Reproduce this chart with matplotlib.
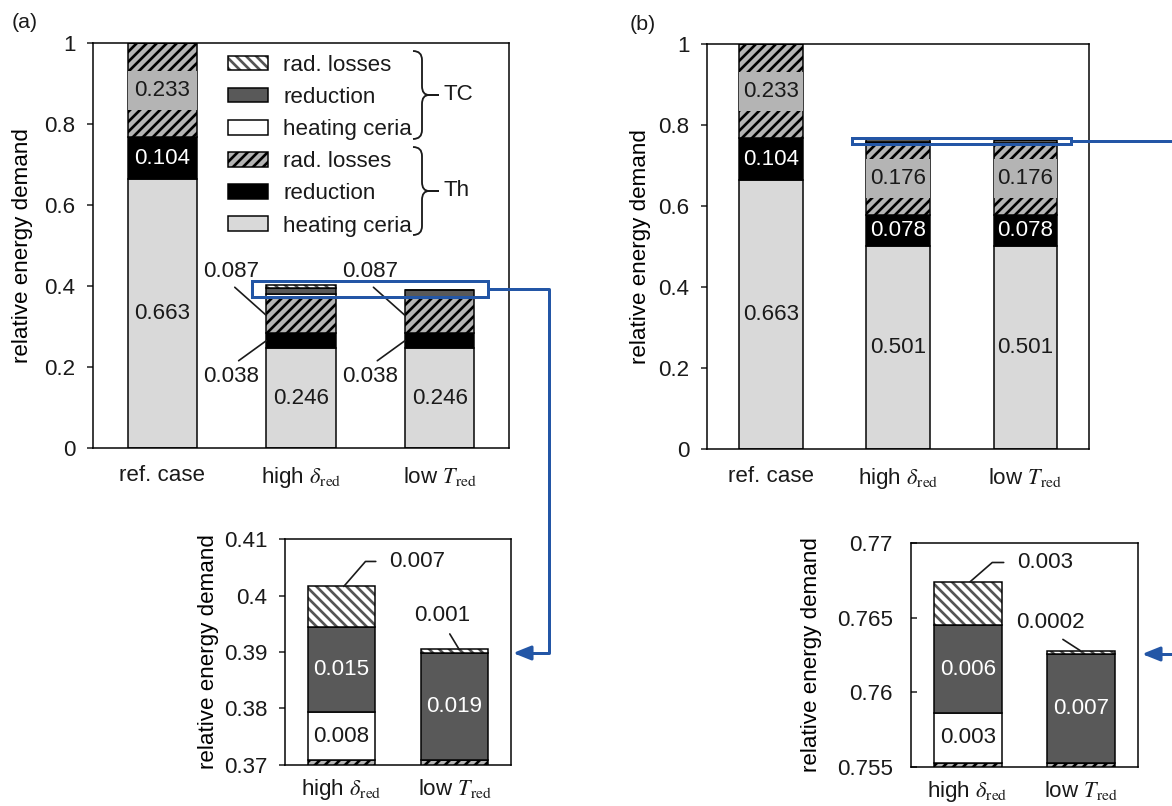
import matplotlib
matplotlib.use('Agg')
import matplotlib.pyplot as plt
from matplotlib.patches import Patch, Rectangle, PathPatch, FancyArrowPatch
from matplotlib.path import Path
from matplotlib.transforms import Affine2D
from matplotlib.ticker import FuncFormatter, MultipleLocator
import numpy as np

W, H, DPI = 1172, 806, 120

cases = ['ref. case', r'high $\delta_{\mathrm{red}}$', r'low $T_{\mathrm{red}}$']

# (a) thermal part (Th): heating ceria, reduction, rad. losses
th_heat_a = [0.663, 0.246, 0.246]
th_red_a = [0.104, 0.038, 0.038]
th_rad_a = [0.233, 0.0869, 0.0869]
# (a) thermochemical part (TC) stacked on top
tc_heat_a = [0.0, 0.0084, 0.0]
tc_red_a = [0.0, 0.0151, 0.0189]
tc_rad_a = [0.0, 0.0072, 0.0007]

# (b)
th_heat_b = [0.663, 0.501, 0.501]
th_red_b = [0.104, 0.078, 0.078]
th_rad_b = [0.233, 0.1763, 0.1763]
tc_heat_b = [0.0, 0.0033, 0.0]
tc_red_b = [0.0, 0.0059, 0.0073]
tc_rad_b = [0.0, 0.0029, 0.0002]

legend_labels = ['rad. losses', 'reduction', 'heating ceria'] * 2

GRAY_LIGHT = '#d9d9d9'
GRAY_MID = '#b4b4b4'
GRAY_DARK = '#595959'
HATCH_GRAY = '#555555'
BLUE = '#2356a6'
TXT = '#1a1a1a'
LW = 0.9
FS = 13.4
TH_HATCH = '////'
TC_HATCH = '\\\\\\\\'

plt.rcParams['font.family'] = 'Liberation Sans'
plt.rcParams['mathtext.fontset'] = 'stix'
plt.rcParams['hatch.linewidth'] = 1.6
plt.rcParams['font.size'] = FS
plt.rcParams['text.color'] = TXT

fig = plt.figure(figsize=(W / DPI, H / DPI), dpi=DPI)
# pixel coordinates of the reference image (origin top left)
PX = Affine2D().scale(1 / W, -1 / H).translate(0, 1) + fig.transFigure


def add_axes(left, top, right, bottom):
    return fig.add_axes([left / W, 1 - bottom / H, (right - left) / W, (bottom - top) / H])


def fmt(v):
    return f'{v:.3f}' if v >= 0.0005 else f'{v:.4f}'


def draw_stacks(ax, th, tc, width):
    # returns list of (bars, bottoms, values) for the six layers
    x = np.arange(len(th[0]))
    base = np.zeros(len(x))
    layers = []
    for vals, fc, hatch in [(th[0], GRAY_LIGHT, None), (th[1], 'black', None),
                            (th[2], GRAY_MID, TH_HATCH), (tc[0], 'white', None),
                            (tc[1], GRAY_DARK, None)]:
        vals = np.asarray(vals)
        bars = ax.bar(x, vals, width, bottom=base, color=fc, edgecolor='black',
                      linewidth=LW, hatch=hatch, zorder=2)
        layers.append((bars, base.copy(), vals))
        base = base + vals
    vals = np.asarray(tc[2])
    ax.bar(x, vals, width, bottom=base, color='white', edgecolor=HATCH_GRAY,
           linewidth=0, hatch=TC_HATCH, zorder=2)
    bars = ax.bar(x, vals, width, bottom=base, fill=False, edgecolor='black',
                  linewidth=LW, zorder=3)
    layers.append((bars, base.copy(), vals))
    return layers


def inner_label(ax, layers, k, i, color=TXT, boxed=False):
    bars, bot, vals = layers[k]
    t = ax.text(i, bot[i] + vals[i] / 2, fmt(vals[i]), ha='center', va='center',
                color=color, fontsize=FS, zorder=6)
    if boxed:
        t.set_bbox(dict(boxstyle='square,pad=0.4', fc=GRAY_MID, ec='none'))
        t.set_clip_path(bars[i])
        t.set_clip_on(True)


def style_axes(ax, ylim, step, direction='out', pad=7, xpad=10):
    ax.set_ylim(*ylim)
    ax.yaxis.set_major_locator(MultipleLocator(step))
    ax.yaxis.set_major_formatter(FuncFormatter(lambda v, p: f'{round(v, 4):g}'))
    ax.tick_params(axis='y', direction=direction, length=3.6, width=LW, pad=pad,
                   labelsize=FS, colors=TXT)
    ax.tick_params(axis='x', length=0, pad=xpad, labelsize=FS, colors=TXT)
    for s in ax.spines.values():
        s.set_linewidth(LW)
    ax.set_ylabel('relative energy demand', fontsize=FS)


ax_a = add_axes(93, 43, 509, 448)
ax_b = add_axes(707, 44, 1089, 449)
in_a = add_axes(285, 539, 511, 765)
in_b = add_axes(911, 543, 1138, 767)

# ---- main panels ----
for ax, th, tc in [(ax_a, (th_heat_a, th_red_a, th_rad_a), (tc_heat_a, tc_red_a, tc_rad_a)),
                   (ax_b, (th_heat_b, th_red_b, th_rad_b), (tc_heat_b, tc_red_b, tc_rad_b))]:
    layers = draw_stacks(ax, th, tc, 0.5)
    ax.set_xlim(-0.5, 2.5)
    ax.set_xticks(range(3), cases)
    style_axes(ax, (0, 1), 0.2)
    inner_label(ax, layers, 0, 0)
    inner_label(ax, layers, 1, 0, color='white')
    inner_label(ax, layers, 2, 0, boxed=True)
    for i in (1, 2):
        inner_label(ax, layers, 0, i)
        if ax is ax_b:
            inner_label(ax, layers, 1, i, color='white')
            inner_label(ax, layers, 2, i, boxed=True)
        else:
            for k, off, rel in [(2, (-21, 26.5), (0.45, 0)), (1, (-21, -21.5), (0.5, 1))]:
                bars, bot, vals = layers[k]
                ax.annotate(fmt(vals[i]), xy=(i - 0.25, bot[i] + vals[i] / 2),
                            xytext=off, textcoords='offset points', ha='center',
                            va='center', fontsize=FS, zorder=6,
                            arrowprops=dict(arrowstyle='-', lw=1.0, color=TXT,
                                            shrinkA=2, shrinkB=0, relpos=rel))

ax_a.add_patch(Rectangle((0.65, 0.373), 1.7, 0.039, fill=False, ec=BLUE, lw=1.8,
                         zorder=7, clip_on=False))
ax_b.add_patch(Rectangle((0.638, 0.7523), 1.724, 0.0163, fill=False, ec=BLUE, lw=1.8,
                         zorder=7, clip_on=False))

# ---- insets ----
for ax, th, tc, ylim, step, tdir, tpad in [
        (in_a, (th_heat_a[1:], th_red_a[1:], th_rad_a[1:]),
         (tc_heat_a[1:], tc_red_a[1:], tc_rad_a[1:]), (0.37, 0.41), 0.01, 'out', 7),
        (in_b, (th_heat_b[1:], th_red_b[1:], th_rad_b[1:]),
         (tc_heat_b[1:], tc_red_b[1:], tc_rad_b[1:]), (0.755, 0.77), 0.005, 'in', 11)]:
    layers = draw_stacks(ax, th, tc, 0.6)
    ax.set_xlim(-0.5, 1.5)
    ax.set_xticks(range(2), cases[1:])
    style_axes(ax, ylim, step, tdir, tpad, xpad=7)
    inner_label(ax, layers, 3, 0)
    inner_label(ax, layers, 4, 0, color='white')
    inner_label(ax, layers, 4, 1, color='white')
    bars, bot, vals = layers[5]
    top = bot + vals
    if ax is in_a:
        off0, ang, off1, x1 = (44, 15), 49, (-10, 20), 1.04
    else:
        off0, ang, off1, x1 = (45, 11.6), 41, (-18, 16.6), 0.99
    ax.annotate(fmt(vals[0]), xy=(0.02, top[0]), xytext=off0, textcoords='offset points',
                ha='center', va='center', fontsize=FS,
                arrowprops=dict(arrowstyle='-', lw=1.0, color=TXT, shrinkA=6, shrinkB=0,
                                relpos=(0, 0.5),
                                connectionstyle=f'angle,angleA=0,angleB={ang},rad=0'))
    ax.annotate(fmt(vals[1]), xy=(x1, top[1]), xytext=off1, textcoords='offset points',
                ha='center', va='center', fontsize=FS,
                arrowprops=dict(arrowstyle='-', lw=1.0, color=TXT, shrinkA=3, shrinkB=0,
                                relpos=(0.55, 0)))
    ax.yaxis.set_label_coords(-0.291 if ax is in_a else -0.391, 0.5)

ax_a.yaxis.set_label_coords(-0.144, 0.5)
ax_b.yaxis.set_label_coords(-0.146, 0.5)

# ---- legend with braces ----
handles = [
    (Patch(fc='white', ec=HATCH_GRAY, lw=0, hatch=TC_HATCH), Patch(fill=False, ec='black', lw=LW)),
    Patch(fc=GRAY_DARK, ec='black', lw=LW),
    Patch(fc='white', ec='black', lw=LW),
    Patch(fc=GRAY_MID, ec='black', lw=LW, hatch=TH_HATCH),
    Patch(fc='black', ec='black', lw=LW),
    Patch(fc=GRAY_LIGHT, ec='black', lw=LW),
]
ax_a.legend(handles, legend_labels, loc='upper left', bbox_to_anchor=(0.3245, 0.971),
            frameon=False, borderpad=0, borderaxespad=0, handlelength=1.8,
            handleheight=0.63, handletextpad=0.67, labelspacing=0.5, fontsize=FS)


def brace(x0, y_top, y_bot, x_tip, label):
    xm = x0 + 9
    r = 9
    ymid = (y_top + y_bot) / 2
    for ya, sgn in ((y_top, 1), (y_bot, -1)):
        verts = [(x0, ya), (xm, ya), (xm, ya + sgn * r), (xm, ymid - sgn * r),
                 (xm, ymid), (xm + 7, ymid), (x_tip, ymid)]
        codes = [Path.MOVETO, Path.CURVE3, Path.CURVE3, Path.LINETO,
                 Path.CURVE3, Path.CURVE3, Path.LINETO]
        fig.add_artist(PathPatch(Path(verts, codes), fill=False, lw=1.1, ec=TXT, transform=PX))
    fig.text(x_tip + 5, ymid, label, transform=PX, ha='left', va='center', fontsize=FS)


brace(413, 51, 139, 439, 'TC')
brace(413, 147, 235, 439, 'Th')

# ---- zoom connectors ----
arrow_kw = dict(arrowstyle='-|>,head_length=0.45,head_width=0.18', mutation_scale=20,
                color=BLUE, lw=1.8, shrinkA=0, shrinkB=0, transform=PX)
fig.add_artist(FancyArrowPatch(path=Path([(488, 289), (549, 289), (549, 653), (513, 653)]),
                               **arrow_kw))
fig.add_artist(FancyArrowPatch(path=Path([(1071, 141), (1180, 141)]),
                               arrowstyle='-', color=BLUE, lw=1.8, transform=PX))
fig.add_artist(FancyArrowPatch(path=Path([(1180, 654), (1142, 654)]), **arrow_kw))

fig.text(12, 22, '(a)', transform=PX, ha='left', va='center', fontsize=12.8)
fig.text(630, 24, '(b)', transform=PX, ha='left', va='center', fontsize=12.8)

fig.savefig('out.png', dpi=DPI)
